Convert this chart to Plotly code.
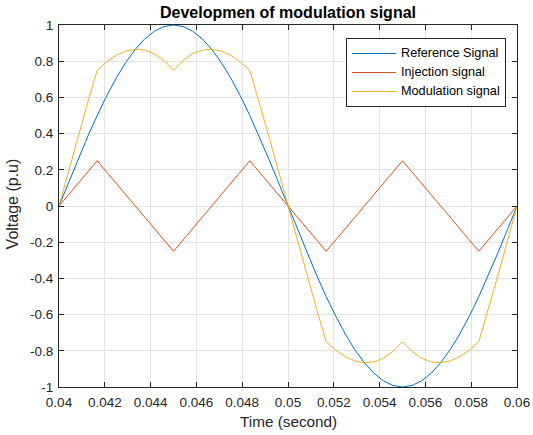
import plotly.graph_objects as go

t = [0.040000, 0.040417, 0.040833, 0.041250, 0.041667, 0.042083, 0.042500, 0.042917,
     0.043333, 0.043750, 0.044167, 0.044583, 0.045000, 0.045417, 0.045833, 0.046250,
     0.046667, 0.047083, 0.047500, 0.047917, 0.048333, 0.048750, 0.049167, 0.049583,
     0.050000, 0.050417, 0.050833, 0.051250, 0.051667, 0.052083, 0.052500, 0.052917,
     0.053333, 0.053750, 0.054167, 0.054583, 0.055000, 0.055417, 0.055833, 0.056250,
     0.056667, 0.057083, 0.057500, 0.057917, 0.058333, 0.058750, 0.059167, 0.059583,
     0.060000]

reference = [0.0, 0.1305, 0.2588, 0.3827, 0.5, 0.6088, 0.7071, 0.7934,
             0.8660, 0.9239, 0.9659, 0.9914, 1.0, 0.9914, 0.9659, 0.9239,
             0.8660, 0.7934, 0.7071, 0.6088, 0.5, 0.3827, 0.2588, 0.1305,
             0.0, -0.1305, -0.2588, -0.3827, -0.5, -0.6088, -0.7071, -0.7934,
             -0.8660, -0.9239, -0.9659, -0.9914, -1.0, -0.9914, -0.9659, -0.9239,
             -0.8660, -0.7934, -0.7071, -0.6088, -0.5, -0.3827, -0.2588, -0.1305,
             0.0]

injection = [0.0, 0.0625, 0.125, 0.1875, 0.25, 0.1875, 0.125, 0.0625,
             0.0, -0.0625, -0.125, -0.1875, -0.25, -0.1875, -0.125, -0.0625,
             0.0, 0.0625, 0.125, 0.1875, 0.25, 0.1875, 0.125, 0.0625,
             0.0, -0.0625, -0.125, -0.1875, -0.25, -0.1875, -0.125, -0.0625,
             0.0, 0.0625, 0.125, 0.1875, 0.25, 0.1875, 0.125, 0.0625,
             0.0, -0.0625, -0.125, -0.1875, -0.25, -0.1875, -0.125, -0.0625,
             0.0]

modulation = [0.0, 0.1930, 0.3838, 0.5702, 0.75, 0.7963, 0.8321, 0.8559,
              0.8660, 0.8614, 0.8409, 0.8039, 0.75, 0.8039, 0.8409, 0.8614,
              0.8660, 0.8559, 0.8321, 0.7963, 0.75, 0.5702, 0.3838, 0.1930,
              0.0, -0.1930, -0.3838, -0.5702, -0.75, -0.7963, -0.8321, -0.8559,
              -0.8660, -0.8614, -0.8409, -0.8039, -0.75, -0.8039, -0.8409, -0.8614,
              -0.8660, -0.8559, -0.8321, -0.7963, -0.75, -0.5702, -0.3838, -0.1930,
              0.0]

x_ticks = [0.04, 0.042, 0.044, 0.046, 0.048, 0.05, 0.052, 0.054, 0.056, 0.058, 0.06]
x_labels = ["0.04", "0.042", "0.044", "0.046", "0.048", "0.05", "0.052", "0.054", "0.056", "0.058", "0.06"]
y_ticks = [-1, -0.8, -0.6, -0.4, -0.2, 0, 0.2, 0.4, 0.6, 0.8, 1]
y_labels = ["-1", "-0.8", "-0.6", "-0.4", "-0.2", "0", "0.2", "0.4", "0.6", "0.8", "1"]

names = ["Reference Signal", "Injection signal", "Modulation signal"]
colors = ["#0072BD", "#D95319", "#EDB120"]

FONT = "Liberation Sans, Arial, sans-serif"

fig = go.Figure()
for name, ys, c in zip(names, [reference, injection, modulation], colors):
    fig.add_trace(go.Scatter(x=t, y=ys, mode="lines", name=name,
                             line=dict(color=c, width=1)))
# legend labels rendered at the reference size while rows stay compact
for tr in fig.data:
    tr.name = '<span style="font-size:12.7px">' + tr.name + '</span>'

axis_common = dict(showgrid=True, gridcolor="#e3e3e3", gridwidth=1,
                   showline=True, linecolor="#262626", linewidth=1, mirror="ticks",
                   ticks="inside", ticklen=5, tickcolor="#262626", zeroline=False,
                   automargin=False,
                   tickfont=dict(family=FONT, size=13.5, color="#262626"))

fig.update_layout(
    width=533, height=435,
    margin=dict(l=59, r=16, t=25, b=48, autoexpand=False),
    paper_bgcolor="white", plot_bgcolor="white",
    title=dict(text="<b>Developmen of modulation signal</b>", x=0.5, xref="paper",
               y=1 - 12.4 / 435, yref="container", yanchor="middle",
               font=dict(family=FONT, size=16, color="black")),
    xaxis=dict(range=[0.04, 0.06], tickvals=x_ticks, ticktext=x_labels,
               ticklabelstandoff=3, **axis_common),
    yaxis=dict(range=[-1, 1], tickvals=y_ticks, ticktext=y_labels,
               ticklabelstandoff=2, **axis_common),
    legend=dict(x=(506 - 59) / 458, xanchor="right", y=1 - (38 - 25) / 362, yanchor="top",
                bgcolor="white", bordercolor="#262626", borderwidth=1,
                font=dict(family=FONT, size=10, color="black"),
                tracegroupgap=0, itemwidth=44),
    annotations=[
        dict(text="Time (second)", xref="paper", yref="paper", x=0.5, y=0,
             xanchor="center", yanchor="middle", yshift=-34.7, showarrow=False,
             font=dict(family=FONT, size=15.3, color="#262626")),
        dict(text="Voltage (p.u)", xref="paper", yref="paper", x=0, y=0.5,
             xanchor="center", yanchor="middle", xshift=-46.6, yshift=2,
             textangle=-90, showarrow=False,
             font=dict(family=FONT, size=16, color="#262626")),
    ],
    showlegend=True,
)

fig.write_html("out.html", config={"displayModeBar": False},
               post_script="document.body.style.margin='0';")
